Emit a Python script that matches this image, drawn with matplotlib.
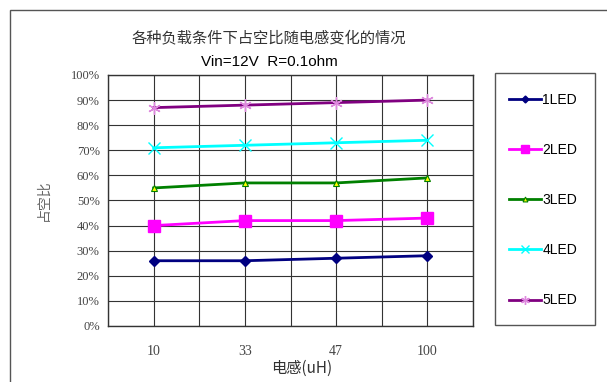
import matplotlib
matplotlib.use("Agg")
from matplotlib import pyplot as plt
from matplotlib.patches import Rectangle

# données
categories = ["10", "33", "47", "100"]
led_1 = [26, 26, 27, 28]
led_2 = [40, 42, 42, 43]
led_3 = [55, 57, 57, 59]
led_4 = [71, 72, 73, 74]
led_5 = [87, 88, 89, 90]
noms = ["1LED", "2LED", "3LED", "4LED", "5LED"]

CJK = ["Noto Sans CJK SC", "DejaVu Sans"]
SERIF = ["Liberation Serif", "DejaVu Serif"]

fig = plt.figure(figsize=(6.07, 3.82), dpi=100)
W, H = 607, 382

# cadre extérieur de la zone du graphique
fig.patches.append(Rectangle((10 / W, -0.1), 1.2, 1 - 10 / H + 0.1,
                             transform=fig.transFigure, fill=False,
                             edgecolor="#555555", linewidth=1.0))
# cadre de la légende
fig.patches.append(Rectangle((495 / W, 1 - 325 / H), 100 / W, 252 / H,
                             transform=fig.transFigure, fill=False,
                             edgecolor="#555555", linewidth=1.0))

ax = fig.add_axes([108 / W, 1 - 326 / H, (473 - 108) / W, (326 - 75) / H])
x = list(range(len(categories)))

ax.plot(x, led_1, color="#000080", lw=2, marker="D", ms=5,
        mfc="#000080", mec="#000080", label=noms[0])
ax.plot(x, led_2, color="#FF00FF", lw=2, marker="s", ms=8,
        mfc="#FF00FF", mec="#FF00FF", label=noms[1])
ax.plot(x, led_3, color="#008000", lw=2, marker="^", ms=5,
        mfc="#FFFF00", mec="#008000", mew=0.8, label=noms[2])
ax.plot(x, led_4, color="#00FFFF", lw=2, marker="x", ms=8,
        mec="#00FFFF", label=noms[3])
ax.plot(x, led_5, color="#800080", lw=2, marker=(6, 2, 0), ms=9,
        mec="#DD88DD", mew=1, label=noms[4])

ax.set_xlim(-0.5, 3.5)
ax.set_ylim(0, 100)
ax.set_xticks(x)
ax.set_xticklabels(categories, fontfamily=SERIF, fontsize=10, color="#444444")
ax.set_xticks([i - 0.5 for i in range(5)], minor=True)
ax.tick_params(axis="x", which="both", length=0, pad=14)
ax.set_yticks(range(0, 101, 10))
ax.set_yticklabels([f"{v}%" for v in range(0, 101, 10)],
                   fontfamily=SERIF, fontsize=9, color="#444444")
ax.tick_params(axis="y", length=0, pad=6)
ax.grid(True, which="both", color="#333333", linewidth=0.8)
ax.set_axisbelow(True)
for s in ax.spines.values():
    s.set_color("#333333")
    s.set_linewidth(1.0)

fig.text(269 / W, 1 - 38 / H, "各种负载条件下占空比随电感变化的情况",
         ha="center", va="center", fontsize=11, family=CJK, color="#333333")
fig.text(269 / W, 1 - 62 / H, "Vin=12V  R=0.1ohm",
         ha="center", va="center", fontsize=11, family="Liberation Sans")
fig.text(44 / W, 1 - 200 / H, "占空比", rotation=90,
         ha="center", va="center", fontsize=10, family=CJK, color="#666666")
fig.text(302 / W, 1 - 368 / H, "电感(uH)",
         ha="center", va="center", fontsize=11, family=CJK, color="#333333")

leg = fig.legend(loc="upper left", bbox_to_anchor=(509 / W, 1 - 93 / H),
                 bbox_transform=fig.transFigure, frameon=False,
                 borderpad=0, borderaxespad=0, labelspacing=2.6,
                 handlelength=2.3, handletextpad=0.1, markerscale=0.7,
                 prop={"family": "Liberation Sans", "size": 10})

fig.savefig("out.png", dpi=100)
